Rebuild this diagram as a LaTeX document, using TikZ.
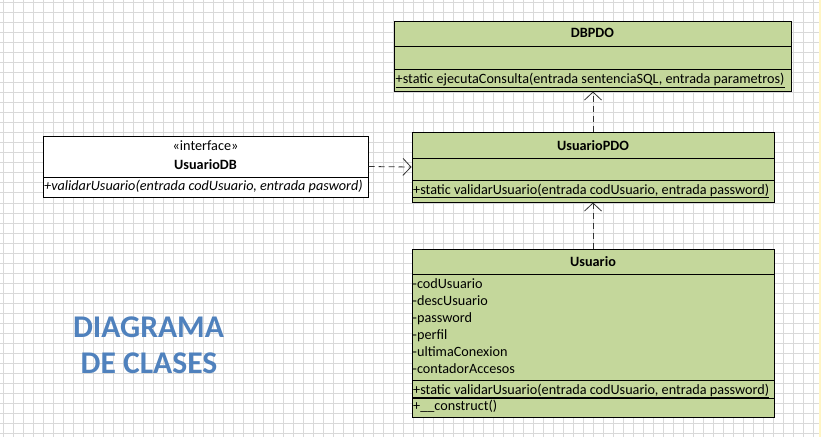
\documentclass[tikz,border=0pt]{standalone}
\usepackage{fontspec}
\setmainfont{Carlito}
\usetikzlibrary{arrows.meta,positioning}

\definecolor{classgreen}{HTML}{C4D79B}
\definecolor{gridgray}{HTML}{D9D9D9}
\definecolor{titleblue}{HTML}{4F81BD}
\definecolor{edgeyellow}{HTML}{FFF5C4}

\newcommand{\memberfont}{\fontsize{14.2pt}{17pt}\selectfont}

\tikzset{
    gridline/.style={gridgray, line width=0.8pt},
    classbox/.style={draw=black, line width=1pt, fill=classgreen, inner sep=0pt},
    ifacebox/.style={classbox, fill=white},
    sepline/.style={black, line width=0.8pt},
    classname/.style={anchor=base, inner sep=0pt, font=\memberfont\bfseries},
    membertext/.style={anchor=base west, inner sep=0pt, font=\memberfont},
    dependency/.style={draw=black!80, line width=0.8pt, dash pattern=on 6pt off 4pt,
        -{Straight Barb[length=8pt,width=17pt,line width=0.8pt]}},
    bigtitle/.style={anchor=base, inner sep=0pt, text=titleblue,
        font=\fontsize{31.6pt}{36pt}\selectfont\bfseries}
}

\begin{document}
\begin{tikzpicture}[x=1pt, y=-1pt]
    \useasboundingbox (0,0) rectangle (821,437);
    \fill[white] (0,0) rectangle (821,437);

    % spreadsheet grid behind the diagram
    \foreach \gx in {0,...,81}
        \draw[gridline] ({3.3+10*\gx},0) -- ({3.3+10*\gx},437);
    \foreach \gy in {0,...,43}
        \draw[gridline] (0,{2.5+10.02*\gy}) -- (821,{2.5+10.02*\gy});
    \fill[edgeyellow] (819,0) rectangle (821,437);

    % class DBPDO
    \node[classbox, minimum width=397pt, minimum height=70pt] (dbpdo) at (592.5,56) {};
    \draw[sepline] (394,46) -- (791,46);
    \draw[sepline] (394,69) -- (791,69);
    \node[classname] (dbpdoname) at (592.5,37.7) {DBPDO};
    \node[membertext] (dbpdoop) at (395.5,83.5)
        {\underline{+static ejecutaConsulta(entrada sentenciaSQL, entrada parametros)}};

    % class UsuarioPDO
    \node[classbox, minimum width=362pt, minimum height=70pt] (usuariopdo) at (593,167) {};
    \draw[sepline] (412,158) -- (774,158);
    \draw[sepline] (412,180) -- (774,180);
    \node[classname] (usuariopdoname) at (593,150) {UsuarioPDO};
    \node[membertext] (usuariopdoop) at (413,194)
        {\underline{+static validarUsuario(entrada codUsuario, entrada password)}};

    % class Usuario
    \node[classbox, minimum width=362pt, minimum height=168pt] (usuario) at (593,333) {};
    \draw[sepline] (412,274) -- (774,274);
    \draw[sepline] (412,380) -- (774,380);
    \draw[sepline] (412,398) -- (774,398);
    \node[classname] (usuarioname) at (593,266) {Usuario};
    \foreach \attr [count=\i from 0] in {codUsuario,descUsuario,password,perfil,ultimaConexion,contadorAccesos}
        \node[membertext] (usuarioattr\i) at (412.5,{288.3+17.05*\i}) {-\attr};
    \node[membertext] (usuarioop) at (413,394)
        {\underline{+static validarUsuario(entrada codUsuario, entrada password)}};
    \node[membertext] (usuarioctor) at (413,410.7) {+\_\_construct()};

    % interface UsuarioDB
    \node[ifacebox, minimum width=325pt, minimum height=61pt] (usuariodb) at (205.5,166.5) {};
    \draw[sepline] (43,177) -- (368,177);
    \node[anchor=base, inner sep=0pt, font=\memberfont] (usuariodbstereo) at (205.5,150.7) {«interface»};
    \node[classname] (usuariodbname) at (205.5,169) {UsuarioDB};
    \node[membertext, font=\memberfont\itshape] (usuariodbop) at (44,190)
        {+validarUsuario(entrada codUsuario, entrada pasword)};

    % dependencies
    \draw[dependency] (usuario.north) -- (usuariopdo.south);
    \draw[dependency] (usuariopdo.north) -- (usuariopdo.north |- dbpdo.south);
    \draw[dependency] (usuariodb.east) -- (usuariopdo.west);

    % title
    \node[bigtitle] (titleone) at (148.5,337) {DIAGRAMA};
    \node[bigtitle] (titletwo) at (149,373) {DE CLASES};
\end{tikzpicture}
\end{document}
